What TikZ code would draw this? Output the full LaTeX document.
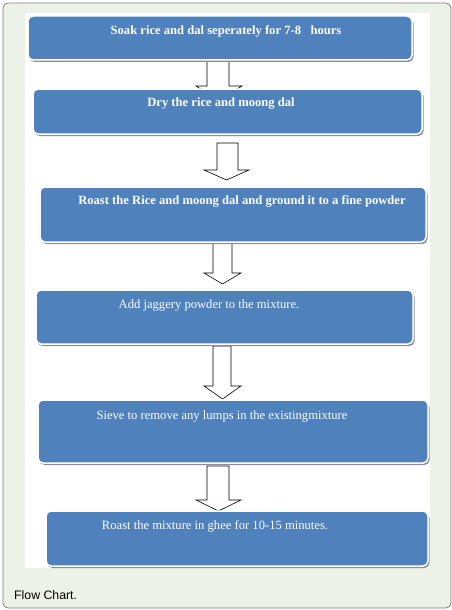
\documentclass[tikz,border=0pt]{standalone}
\usepackage{fontspec}
\setmainfont{Liberation Serif}
\newfontfamily\capfont{Liberation Sans}
\usetikzlibrary{shadows}
\definecolor{boxblue}{RGB}{79,129,189}
\definecolor{framegreen}{RGB}{237,242,232}
\definecolor{framegray}{RGB}{128,128,128}
\definecolor{shadowgray}{RGB}{140,140,155}
\tikzset{
  stepbox/.style={rounded corners=5pt, fill=boxblue, draw=white, line width=1.5pt,
    inner sep=0pt, drop shadow={shadow xshift=1.5pt, shadow yshift=-2pt, fill=shadowgray, opacity=1}},
  steptext/.style={text=white, font=\fontsize{12.6}{14}\selectfont, inner sep=0pt},
  boldtext/.style={steptext, font=\fontsize{12.6}{14}\selectfont\bfseries},
  blockarrow/.style={fill=white, draw=black, line width=0.6pt, line join=miter}
}
\begin{document}
\begin{tikzpicture}[x=1pt,y=-1pt]
\useasboundingbox (0,0) rectangle (452,610);
% frame
\draw[fill=framegreen, draw=framegray, line width=0.8pt, rounded corners=5pt] (3,3) rectangle (451,608);
\fill[white] (25,13) rectangle (430,568);
% block arrows (behind boxes)
\draw[blockarrow] (207,58) -- (229,58) -- (229,86) -- (242,86) -- (218,100) -- (196,86) -- (207,86) -- cycle;
\draw[blockarrow] (217,143) -- (238,143) -- (238,170) -- (249,170) -- (226.5,180) -- (204,170) -- (217,170) -- cycle;
\draw[blockarrow] (213,241) -- (232,241) -- (232,273) -- (241,273) -- (222.5,284) -- (204,273) -- (213,273) -- cycle;
\draw[blockarrow] (213,346) -- (231,346) -- (231,386) -- (241,386) -- (222.5,399) -- (204,386) -- (213,386) -- cycle;
\draw[blockarrow] (207,466) -- (229,466) -- (229,500) -- (241,500) -- (218.5,511) -- (196,500) -- (207,500) -- cycle;
% boxes
\node[stepbox, minimum width=384pt, minimum height=44pt] (b1) at (220,38) {};
\node[stepbox, minimum width=389pt, minimum height=45pt] (b2) at (227.5,111.5) {};
\node[stepbox, minimum width=386pt, minimum height=55pt] (b3) at (233,214.5) {};
\node[stepbox, minimum width=377pt, minimum height=54pt] (b4) at (224.5,317) {};
\node[stepbox, minimum width=390pt, minimum height=63pt] (b5) at (233,431.5) {};
\node[stepbox, minimum width=382pt, minimum height=55pt] (b6) at (237,538.5) {};
% texts
\node[boldtext] (t1) at (226,31) {Soak rice and dal seperately for 7-8 \ \ hours};
\node[boldtext] (t2) at (221,104) {Dry the rice and moong dal};
\node[boldtext] (t3) at (242,201) {Roast the Rice and moong dal and ground it to a fine powder};
\node[steptext] (t4) at (209,305) {Add jaggery powder to the mixture.};
\node[steptext] (t5) at (222,416) {Sieve to remove any lumps in the existingmixture};
\node[steptext] (t6) at (215,526) {Roast the mixture in ghee for 10-15 minutes.};
% caption
\node[anchor=base west, inner sep=0pt, font=\capfont\fontsize{12.3}{14}\selectfont] (cap) at (14,599) {Flow Chart.};
\end{tikzpicture}
\end{document}
